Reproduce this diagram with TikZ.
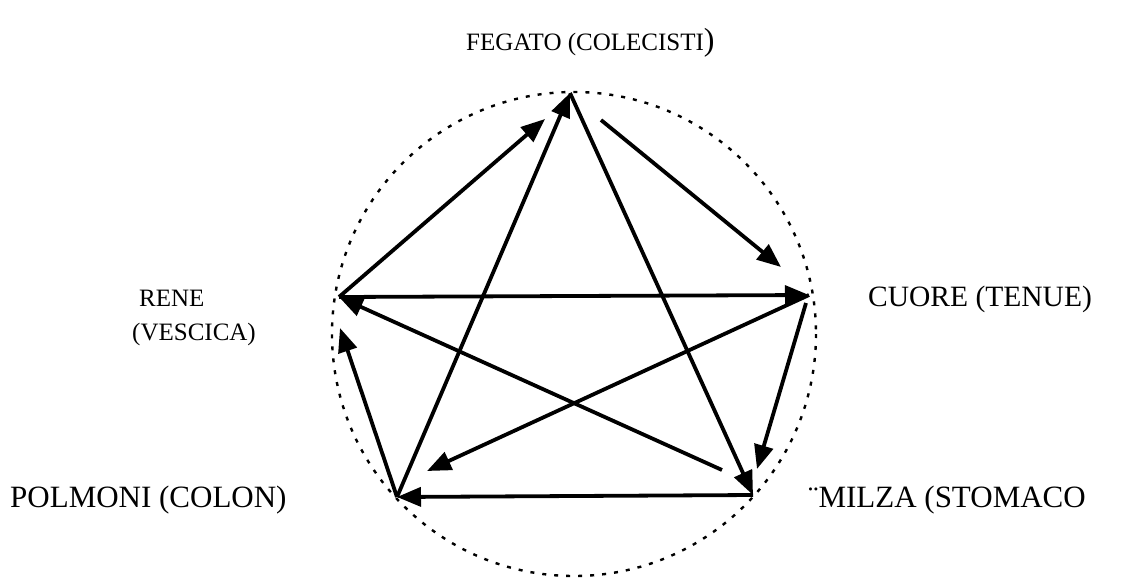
\documentclass[tikz,border=0pt]{standalone}
\usepackage{fontspec}
\setmainfont{Liberation Serif}
\usetikzlibrary{arrows.meta,calc}
\begin{document}
\begin{tikzpicture}[x=1pt,y=-1pt,
  arr/.style={line width=3.8pt,-{Triangle[length=24pt,width=19pt]}},
  lbl/.style={inner sep=0pt},
  ring/.style={line width=2.4pt,dash pattern=on 4pt off 8pt}]
\useasboundingbox (0,0) rectangle (1122,587);
\coordinate (F) at (570,93);
\coordinate (C) at (809,295);
\coordinate (M) at (753,495);
\coordinate (P) at (397,497);
\coordinate (R) at (339,297);
\coordinate (f1) at (601,120);
\coordinate (c1) at (781,267);
\coordinate (a1) at (545,119);
\coordinate (c2) at (806,303);
\coordinate (m1) at (757,469);
\coordinate (p1) at (427,471);
\coordinate (m2) at (722,470);
\coordinate (r1) at (340,328);
\coordinate (O) at (574,334);
\draw[ring] (O) circle[radius=242];
\draw[arr] (R) -- (a1);
\draw[arr] (P) -- (F);
\draw[arr] (F) -- (M);
\draw[arr] (f1) -- (c1);
\draw[arr] (R) -- (C);
\draw[arr] (c2) -- (m1);
\draw[arr] (C) -- (p1);
\draw[arr] (m2) -- (R);
\draw[arr] (M) -- (P);
\draw[arr] (P) -- (r1);
\node[lbl,anchor=base west,font=\fontsize{25}{27}\selectfont] (tF) at (466,50) {FEGATO (COLECISTI\fontsize{32}{34}\selectfont)};
\node[lbl,anchor=base west,font=\fontsize{29.5}{31}\selectfont] (tC) at (868,306) {CUORE (TENUE)};
\node[lbl,anchor=base west,font=\fontsize{25}{27}\selectfont] (tR1) at (139,306) {RENE};
\node[lbl,anchor=base west,font=\fontsize{25}{27}\selectfont] (tR2) at (132,340) {(VESCICA)};
\node[lbl,anchor=base west,font=\fontsize{31}{33}\selectfont] (tP) at (10,507) {POLMONI (COLON)};
\node[lbl,anchor=base west,font=\fontsize{31}{33}\selectfont] (tM) at (808,507) {¨MILZA (STOMACO};
\end{tikzpicture}
\end{document}
